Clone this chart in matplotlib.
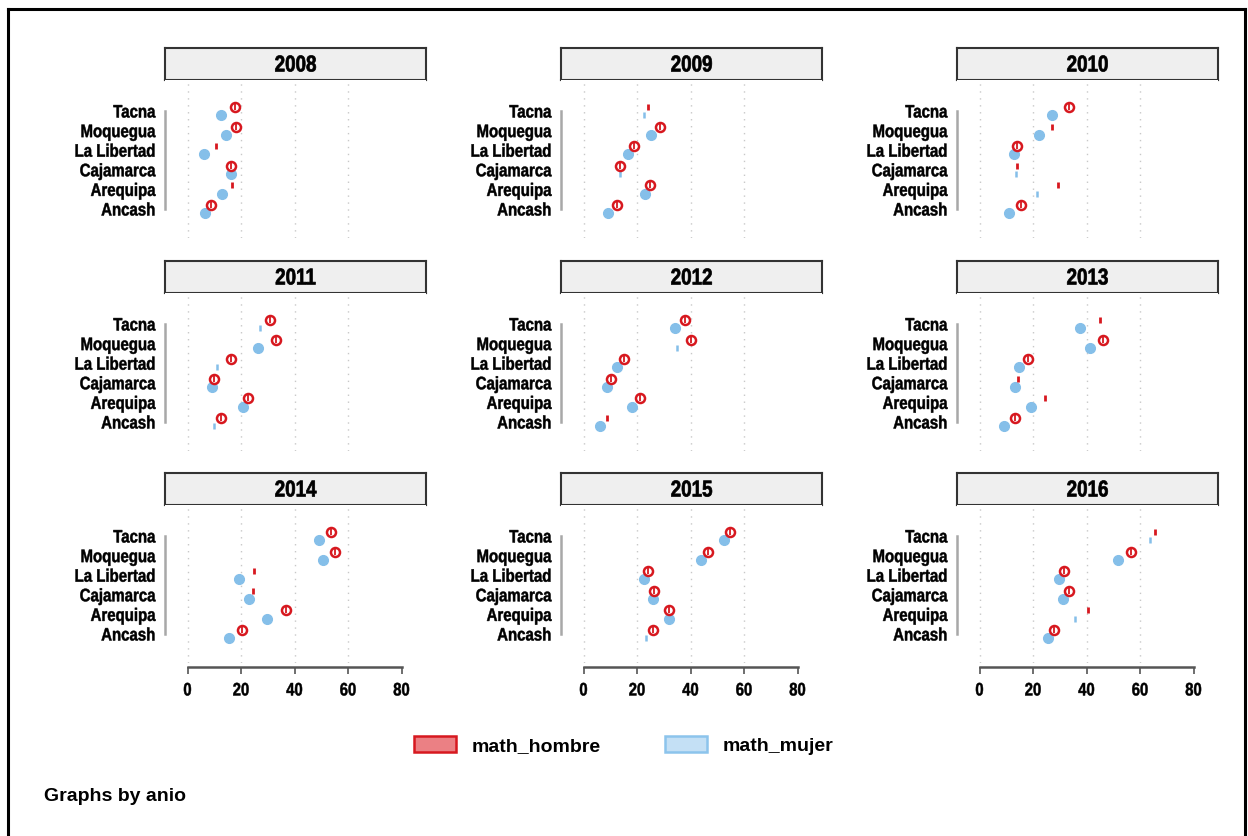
import matplotlib
matplotlib.use("Agg")
import matplotlib.pyplot as plt
from matplotlib.patches import Patch
from matplotlib.lines import Line2D
from matplotlib.patheffects import AbstractPathEffect
from matplotlib.transforms import Affine2D

# Mean math scores by region and sex, one panel per year
years = [2008, 2009, 2010, 2011, 2012, 2013, 2014, 2015, 2016]
regions = ["Ancash", "Arequipa", "Cajamarca", "La Libertad", "Moquegua", "Tacna"]

math_hombre = {
    2008: [8.7, 16.5, 16.2, 10.8, 18.3, 17.9],
    2009: [12.6, 24.7, 13.8, 18.8, 28.5, 24.0],
    2010: [15.6, 29.2, 14.2, 13.9, 27.2, 33.4],
    2011: [12.7, 22.5, 9.8, 16.1, 33.0, 30.8],
    2012: [8.7, 21.0, 10.2, 15.1, 40.2, 38.1],
    2013: [13.1, 24.3, 14.3, 18.1, 46.0, 45.0],
    2014: [20.4, 36.9, 24.3, 25.0, 55.3, 53.7],
    2015: [25.8, 31.9, 26.3, 24.0, 46.6, 54.8],
    2016: [27.7, 40.6, 33.4, 31.7, 56.7, 65.5],
}
math_mujer = {
    2008: [6.6, 12.8, 16.2, 6.1, 14.5, 12.6],
    2009: [9.1, 23.1, 13.6, 16.8, 25.2, 22.8],
    2010: [11.0, 21.6, 13.6, 13.0, 22.4, 27.0],
    2011: [9.8, 20.7, 9.3, 11.2, 26.3, 27.0],
    2012: [6.0, 18.3, 8.8, 12.7, 34.9, 34.3],
    2013: [9.1, 19.2, 13.3, 14.8, 41.2, 37.4],
    2014: [15.7, 29.8, 23.1, 19.1, 50.8, 49.1],
    2015: [23.4, 32.0, 26.0, 22.5, 43.9, 52.7],
    2016: [25.5, 35.8, 31.3, 29.9, 51.8, 63.6],
}
# weight flags (1 = full marker, 0 = small marker)
peso_hombre = {
    2008: [1, 0, 1, 0, 1, 1],
    2009: [1, 1, 1, 1, 1, 0],
    2010: [1, 0, 0, 1, 0, 1],
    2011: [1, 1, 1, 1, 1, 1],
    2012: [0, 1, 1, 1, 1, 1],
    2013: [1, 0, 0, 1, 1, 0],
    2014: [1, 1, 0, 0, 1, 1],
    2015: [1, 1, 1, 1, 1, 1],
    2016: [1, 0, 1, 1, 1, 0],
}
peso_mujer = {
    2008: [1, 1, 1, 1, 1, 1],
    2009: [1, 1, 0, 1, 1, 0],
    2010: [1, 0, 0, 1, 1, 1],
    2011: [0, 1, 1, 0, 1, 0],
    2012: [1, 1, 1, 1, 0, 1],
    2013: [1, 1, 1, 1, 1, 1],
    2014: [1, 1, 1, 1, 1, 1],
    2015: [0, 1, 1, 1, 1, 1],
    2016: [1, 0, 1, 1, 1, 0],
}
xticks = [0, 20, 40, 60, 80]

RED = "#d7181f"
BLUE = "#85bfe9"
FONT = ["Liberation Sans", "DejaVu Sans"]


class Condense(AbstractPathEffect):
    """Squeeze glyphs horizontally around an anchor (0 left, .5 centre, 1 right),
    with a thin outline to keep the strokes heavy."""

    def __init__(self, sx=0.82, anchor=0.5, weight=0.5):
        super().__init__()
        self.sx = sx
        self.anchor = anchor
        self.weight = weight

    def draw_path(self, renderer, gc, tpath, affine, rgbFace=None):
        ext = tpath.get_extents()
        a = ext.x0 + ext.width * self.anchor
        tr = Affine2D().scale(self.sx, 1).translate((1 - self.sx) * a, 0) + affine
        gc0 = renderer.new_gc()
        gc0.copy_properties(gc)
        if rgbFace is not None:
            gc0.set_foreground(rgbFace)
        gc0.set_linewidth(self.weight)
        renderer.draw_path(gc0, tpath, tr, rgbFace)
        gc0.restore()


W, H = 1248, 837
fig = plt.figure(figsize=(W / 100, H / 100), dpi=100)


def rect(x0, y0, w, h):
    # pixel box (top-left origin) -> figure fraction
    return [x0 / W, 1 - (y0 + h) / H, w / W, h / H]


col_x = [165, 561, 957]
row_y = [81, 294, 506]
ax_w, ax_h = 261, 158
title_h = 32
px_per_unit = 2.675
x_lo = -22.5 / px_per_unit
x_hi = x_lo + ax_w / px_per_unit
cat_px = 19.6
y_hi = 5 + 31 / cat_px
y_lo = y_hi - ax_h / cat_px
ypos = list(range(len(regions)))

for i, year in enumerate(years):
    r, c = divmod(i, 3)
    x0, y0 = col_x[c], row_y[r]

    # panel header
    tax = fig.add_axes(rect(x0, y0 - title_h, ax_w, title_h))
    tax.set_facecolor("#efefef")
    tax.set_xticks([])
    tax.set_yticks([])
    for s in tax.spines.values():
        s.set_color("#333333")
        s.set_linewidth(1.5)
    tax.text(0.5, 0.47, str(year), ha="center", va="center", fontsize=16.5,
             fontweight="bold", family=FONT, transform=tax.transAxes,
             path_effects=[Condense(0.82, 0.5, 0.5)])

    ax = fig.add_axes(rect(x0, y0, ax_w, ax_h))
    ax.set_xlim(x_lo, x_hi)
    ax.set_ylim(y_lo, y_hi)
    for g in xticks[:-1]:
        ax.axvline(g, color="#c8c8c8", lw=1, ls=(0, (1, 4)), zorder=0)

    yh = [p + 0.2 for p in ypos]
    ym = [p - 0.21 for p in ypos]
    for xv, yv, big in zip(math_mujer[year], ym, peso_mujer[year]):
        if big:
            ax.plot(xv, yv, "o", ms=7, mfc=BLUE, mec=BLUE, zorder=3)
        else:
            ax.plot(xv, yv, "|", ms=5, mew=1.8, color=BLUE, zorder=3)
    for xv, yv, big in zip(math_hombre[year], yh, peso_hombre[year]):
        if big:
            ax.plot(xv, yv, "o", ms=6.5, mfc="white", mec=RED, mew=1.8, zorder=4)
            ax.plot(xv, yv, "|", ms=4, mew=1.3, color=RED, zorder=5)
        else:
            ax.plot(xv, yv, "|", ms=5, mew=2, color=RED, zorder=4)

    ax.set_yticks(ypos)
    ax.set_yticklabels(regions, fontsize=13, fontweight="bold", family=FONT,
                       path_effects=[Condense(0.83, 1.0, 0.35)])
    ax.tick_params(axis="y", length=0, pad=7)
    for s in ["top", "right"]:
        ax.spines[s].set_visible(False)
    ax.spines["left"].set_bounds(0, 5)
    ax.spines["left"].set_color("#a8a8a8")
    ax.spines["left"].set_linewidth(1.8)

    if r == 2:
        ax.spines["bottom"].set_bounds(0, 80)
        ax.spines["bottom"].set_color("#555555")
        ax.spines["bottom"].set_linewidth(1.8)
        ax.spines["bottom"].set_position(("outward", 3))
        ax.set_xticks(xticks)
        ax.set_xticklabels([str(t) for t in xticks], fontsize=13,
                           fontweight="bold", family=FONT,
                           path_effects=[Condense(0.82, 0.5, 0.35)])
        ax.tick_params(axis="x", length=5, width=1.2, color="#555555", pad=6)
    else:
        ax.spines["bottom"].set_visible(False)
        ax.set_xticks([])

handles = [
    Patch(facecolor="#eb8084", edgecolor=RED, linewidth=1.8, label="math_hombre"),
    Patch(facecolor="#c4e0f5", edgecolor="#8cc4ec", linewidth=1.8, label="math_mujer"),
]
fig.legend(handles=handles, loc="center", bbox_to_anchor=(623.5 / W, 1 - 746 / H),
           ncol=2, frameon=False, handlelength=2.16, handleheight=0.93,
           handletextpad=0.82, columnspacing=3.3,
           prop={"family": FONT, "weight": "bold", "size": 14})

fig.text(44 / W, 1 - 797 / H, "Graphs by anio", ha="left", va="center",
         fontsize=14, fontweight="bold", family=FONT)

# outer frame
fig.add_artist(Line2D([8 / W, 8 / W], [0, 1 - 10 / H], color="black", lw=2.2,
                      transform=fig.transFigure))
fig.add_artist(Line2D([8 / W, 1245 / W], [1 - 10 / H, 1 - 10 / H], color="black",
                      lw=2.2, transform=fig.transFigure))
fig.add_artist(Line2D([1245 / W, 1245 / W], [0, 1 - 10 / H], color="black", lw=2.2,
                      transform=fig.transFigure))

fig.savefig("out.png", dpi=100)
